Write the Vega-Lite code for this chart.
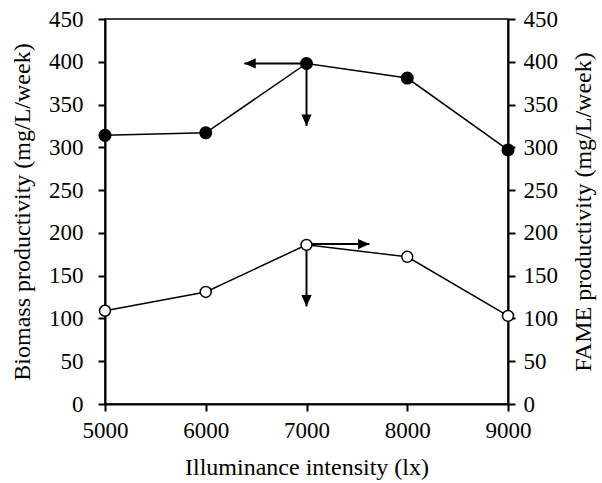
{
  "$schema": "https://vega.github.io/schema/vega-lite/v6.json",
  "autosize": "none",
  "width": 403,
  "height": 385,
  "padding": {"left": 105, "top": 19, "right": 94, "bottom": 79},
  "background": "white",
  "config": {
    "view": {"stroke": "black", "strokeWidth": 1.5},
    "font": "Liberation Serif",
    "axis": {
      "labelFont": "Liberation Serif",
      "titleFont": "Liberation Serif",
      "labelFontSize": 23,
      "titleFontSize": 24,
      "titleFontWeight": "normal",
      "labelColor": "black",
      "titleColor": "black",
      "domainColor": "black",
      "tickColor": "black",
      "domainWidth": 2,
      "tickWidth": 2,
      "tickSize": 7,
      "grid": false
    },
    "axisX": {"labelFont": "Liberation Serif", "labelFontSize": 23, "labelFlush": false}
  },
  "datasets": {
    "prod": [
      {"lux": 5000, "value": 314, "series": "Biomass"},
      {"lux": 6000, "value": 317, "series": "Biomass"},
      {"lux": 7000, "value": 398, "series": "Biomass"},
      {"lux": 8000, "value": 381, "series": "Biomass"},
      {"lux": 9000, "value": 297, "series": "Biomass"},
      {"lux": 5000, "value": 109, "series": "FAME"},
      {"lux": 6000, "value": 131, "series": "FAME"},
      {"lux": 7000, "value": 186, "series": "FAME"},
      {"lux": 8000, "value": 172, "series": "FAME"},
      {"lux": 9000, "value": 103, "series": "FAME"}
    ],
    "arrows": [
      {"x": 7000, "y": 398, "x2": 6383, "y2": 398, "dir": "left"},
      {"x": 7000, "y": 398, "x2": 7000, "y2": 325, "dir": "down"},
      {"x": 7000, "y": 187, "x2": 7625, "y2": 187, "dir": "right"},
      {"x": 7000, "y": 186, "x2": 7000, "y2": 114, "dir": "down"}
    ]
  },
  "resolve": {"scale": {"y": "shared"}, "axis": {"y": "independent"}},
  "layer": [
    {
      "data": {"name": "arrows"},
      "mark": {"type": "rule", "color": "black", "strokeWidth": 2},
      "encoding": {
        "x": {"field": "x", "type": "quantitative", "scale": {"domain": [5000, 9000], "nice": false, "zero": false},
          "axis": {"title": "Illuminance intensity (lx)", "values": [5000, 6000, 7000, 8000, 9000], "format": "d", "labelFont": "Liberation Serif", "labelFontSize": 23, "labelFlush": false, "labelPadding": 8, "titlePadding": 13}},
        "x2": {"field": "x2"},
        "y": {"field": "y", "type": "quantitative", "scale": {"domain": [0, 450], "nice": false},
          "axis": {"title": "Biomass productivity (mg/L/week)", "orient": "left", "values": [0, 50, 100, 150, 200, 250, 300, 350, 400, 450], "labelFont": "Liberation Serif", "labelFontSize": 23, "labelPadding": 15, "titlePadding": 14}},
        "y2": {"field": "y2"}
      }
    },
    {
      "data": {"name": "arrows"},
      "mark": {"type": "point", "filled": true, "color": "black", "opacity": 1, "size": 130, "strokeWidth": 0},
      "encoding": {
        "x": {"field": "x2", "type": "quantitative",
          "axis": {"title": "Illuminance intensity (lx)", "values": [5000, 6000, 7000, 8000, 9000], "format": "d", "labelFont": "Liberation Serif", "labelFontSize": 23, "labelFlush": false, "labelPadding": 8, "titlePadding": 13}},
        "y": {"field": "y2", "type": "quantitative", "axis": null},
        "shape": {"field": "dir", "type": "nominal", "legend": null,
          "scale": {"domain": ["left", "right", "down"], "range": ["M0,0L2,-0.9L2,0.9Z", "M0,0L-2,-0.9L-2,0.9Z", "M0,0L-0.9,-2L0.9,-2Z"]}}
      }
    },
    {
      "data": {"name": "prod"},
      "transform": [{"filter": "datum.series === 'Biomass'"}],
      "layer": [
        {"mark": {"type": "line", "color": "black", "strokeWidth": 1.5},
         "encoding": {"x": {"field": "lux", "type": "quantitative",
           "axis": {"title": "Illuminance intensity (lx)", "values": [5000, 6000, 7000, 8000, 9000], "format": "d", "labelFont": "Liberation Serif", "labelFontSize": 23, "labelFlush": false, "labelPadding": 8, "titlePadding": 13}},
           "y": {"field": "value", "type": "quantitative", "axis": null}}},
        {"mark": {"type": "point", "shape": "circle", "filled": true, "color": "black", "opacity": 1, "size": 170},
         "encoding": {"x": {"field": "lux", "type": "quantitative",
           "axis": {"title": "Illuminance intensity (lx)", "values": [5000, 6000, 7000, 8000, 9000], "format": "d", "labelFont": "Liberation Serif", "labelFontSize": 23, "labelFlush": false, "labelPadding": 8, "titlePadding": 13}},
           "y": {"field": "value", "type": "quantitative", "axis": null}}}
      ]
    },
    {
      "data": {"name": "prod"},
      "transform": [{"filter": "datum.series === 'FAME'"}],
      "layer": [
        {"mark": {"type": "line", "color": "black", "strokeWidth": 1.5},
         "encoding": {"x": {"field": "lux", "type": "quantitative",
           "axis": {"title": "Illuminance intensity (lx)", "values": [5000, 6000, 7000, 8000, 9000], "format": "d", "labelFont": "Liberation Serif", "labelFontSize": 23, "labelFlush": false, "labelPadding": 8, "titlePadding": 13}},
           "y": {"field": "value", "type": "quantitative",
             "axis": {"orient": "right", "title": "FAME productivity (mg/L/week)", "titleAngle": -90, "titleBaseline": "bottom", "values": [0, 50, 100, 150, 200, 250, 300, 350, 400, 450], "labelFont": "Liberation Serif", "labelFontSize": 23, "labelPadding": 8, "titlePadding": 38}}}},
        {"mark": {"type": "point", "shape": "circle", "filled": true, "fill": "white", "stroke": "black", "strokeWidth": 1.5, "opacity": 1, "size": 120},
         "encoding": {"x": {"field": "lux", "type": "quantitative",
           "axis": {"title": "Illuminance intensity (lx)", "values": [5000, 6000, 7000, 8000, 9000], "format": "d", "labelFont": "Liberation Serif", "labelFontSize": 23, "labelFlush": false, "labelPadding": 8, "titlePadding": 13}},
           "y": {"field": "value", "type": "quantitative"}}}
      ]
    }
  ]
}
